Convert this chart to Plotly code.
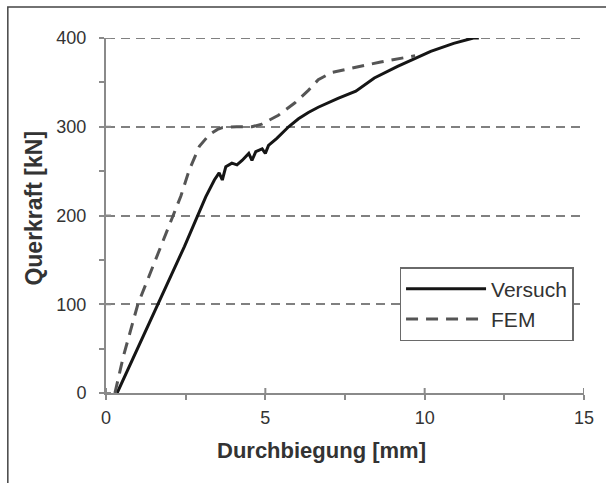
import plotly.graph_objects as go

# Durchbiegung [mm] / Querkraft [kN]
versuch_x = [0.35, 0.9, 1.62, 2.1, 2.46, 2.82, 3.13, 3.4, 3.55, 3.65, 3.76, 3.95, 4.11,
             4.27, 4.48, 4.58, 4.7, 4.9, 5.0, 5.1, 5.36, 5.73, 6.04, 6.35, 6.66, 7.28,
             7.84, 8.42, 9.15, 10.19, 10.91, 11.53, 11.7]
versuch_y = [0, 43, 100, 136, 165, 195, 221, 240, 248, 240, 255, 259, 257,
             262, 270, 262, 272, 275, 270, 279, 287, 300, 309, 316, 322, 332,
             340, 355, 368, 385, 394, 400, 400]

fem_x = [0.28, 0.55, 1.0, 1.45, 1.9, 2.15, 2.35, 2.61, 2.93, 3.24, 3.5, 3.65, 4.1,
         4.58, 4.89, 5.41, 5.93, 6.35, 6.66, 7.07, 7.69, 8.62, 9.55, 9.7]
fem_y = [0, 42, 100, 140, 180, 203, 222, 251, 278, 291, 297, 299, 300,
         300, 303, 313, 327, 341, 353, 361, 366, 373, 379, 380]

x_ticks = [0, 5, 10, 15]
y_ticks = [0, 100, 200, 300, 400]
x_title = "Durchbiegung [mm]"
y_title = "Querkraft [kN]"

FONT = "Liberation Sans, Arial, sans-serif"
AXIS_GRAY = "#8a8a8a"
GRID_GRAY = "#808080"
TEXT = "#333333"

fig = go.Figure()
fig.add_trace(go.Scatter(x=versuch_x, y=versuch_y, mode="lines", name="Versuch",
                         line=dict(color="#151515", width=3)))
fig.add_trace(go.Scatter(x=fem_x, y=fem_y, mode="lines", name="FEM",
                         line=dict(color="#555555", width=3, dash="12px,8px")))

W, H = 606, 483
L, R, T, B = 106, 18, 38, 90
pw, ph = W - L - R, H - T - B


def px_x(p):
    """pixel column -> paper x"""
    return (p - L) / pw


def px_y(p):
    """pixel row -> paper y"""
    return (H - B - p) / ph


common = dict(showline=True, linecolor=AXIS_GRAY, linewidth=2, zeroline=False,
              tickcolor=AXIS_GRAY, tickwidth=2, mirror=False)

fig.update_layout(
    width=W, height=H,
    margin=dict(l=L, r=R, t=T, b=B),
    paper_bgcolor="white", plot_bgcolor="white",
    font=dict(family=FONT, size=18, color=TEXT),
    xaxis=dict(range=[0, 15], tickvals=x_ticks, ticks="outside", ticklen=5,
               minor=dict(dtick=2.5, ticks="outside", ticklen=5, tickcolor=AXIS_GRAY,
                          tickwidth=1.5, showgrid=False),
               showgrid=False, tickfont=dict(size=18, color=TEXT),
               ticklabelstandoff=2, **common),
    yaxis=dict(range=[0, 400], tickvals=y_ticks, ticks="outside", ticklen=5,
               minor=dict(dtick=50, ticks="outside", ticklen=5, tickcolor=AXIS_GRAY,
                          tickwidth=1.5, showgrid=False),
               showgrid=True, gridcolor=GRID_GRAY, gridwidth=2, griddash="9px,6px",
               tickfont=dict(size=18, color=TEXT), ticklabelstandoff=9,
               **common),
    legend=dict(x=px_x(402), y=px_y(267),
                xanchor="left", yanchor="top",
                bgcolor="white", bordercolor="#6a6a6a", borderwidth=1.5,
                font=dict(size=21, color=TEXT), tracegroupgap=2,
                itemwidth=80),
    showlegend=True,
)

# axis titles
fig.add_annotation(text=f"<b>{x_title}</b>", xref="paper", yref="paper",
                   x=px_x(323), y=px_y(450), xanchor="center", yanchor="middle",
                   showarrow=False, font=dict(size=22, color=TEXT))
fig.add_annotation(text=f"<b>{y_title}</b>", xref="paper", yref="paper",
                   x=px_x(33), y=px_y(208), xanchor="center", yanchor="middle",
                   textangle=-90, showarrow=False, font=dict(size=23, color=TEXT))

# inner halves of the crossing major ticks
for v in x_ticks:
    fig.add_shape(type="line", xref="x", x0=v, x1=v,
                  yref="paper", ysizemode="pixel", yanchor=0, y0=0, y1=5,
                  line=dict(color=AXIS_GRAY, width=2))
for v in y_ticks:
    fig.add_shape(type="line", yref="y", y0=v, y1=v,
                  xref="paper", xsizemode="pixel", xanchor=0, x0=0, x1=5,
                  line=dict(color=AXIS_GRAY, width=2))

# gridline at the top of the value range
fig.add_shape(type="line", xref="paper", yref="y", x0=0, x1=1,
              y0=y_ticks[-1], y1=y_ticks[-1],
              line=dict(color=GRID_GRAY, width=2, dash="9px,6px"), layer="below")

# outer frame of the figure (right and bottom edges fall outside the page)
fig.add_shape(type="rect", xref="paper", yref="paper",
              x0=px_x(7), x1=px_x(W + 30), y0=px_y(H + 30), y1=px_y(7),
              line=dict(color="#444444", width=1.5), layer="below")

fig.write_html("out.html")
